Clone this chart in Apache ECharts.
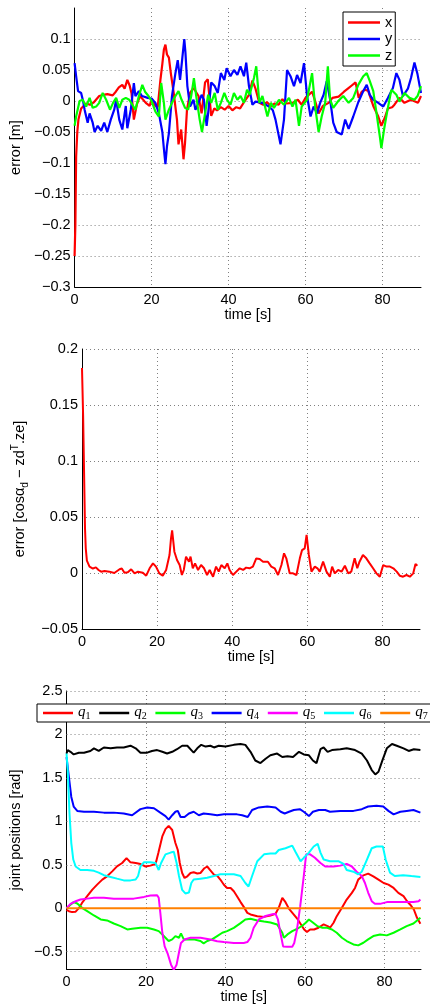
<!DOCTYPE html>
<html><head><meta charset="utf-8">
<script src="https://cdn.jsdelivr.net/npm/echarts@6/dist/echarts.min.js"></script>
<style>html,body{margin:0;padding:0;background:#fff}#c{width:430px;height:1007px}</style>
</head><body><div id="c"></div>
<script>
// ---------- tick labels ----------
const xTicks = [0, 20, 40, 60, 80];
const yTicks1 = [-0.3, -0.25, -0.2, -0.15, -0.1, -0.05, 0, 0.05, 0.1];
const yTicks2 = [-0.05, 0, 0.05, 0.1, 0.15, 0.2];
const yTicks3 = [-0.5, 0, 0.5, 1, 1.5, 2, 2.5];

// ---------- plot 1: position error ----------
const xT = [0,0.2,0.4,0.7,1.0,1.7,3,4,5,6.4,7.5,8.5,9.9,10.7,11.5,12.4,13,13.7,14.3,14.8,15.4,16.2,17,18.5,19.5,20,21,21.6,22.3,22.8,23.2,23.6,24,24.5,25,25.75,26.6,27,27.7,28.3,28.7,29.2,30,30.9,32.2,33,33.9,34.6,35.5,36.3,37,38,39,40,41,42,43,44,45.3,46.2,47,48,49,50,51,52,53,54,55,56.6,58,59,60,61.7,62.5,63.4,64.5,66,67,68.6,70,71,72,73,73.8,74.6,75.5,76.3,77.6,78.9,79.7,80.6,81.4,82.5,83.1,84.4,85.7,87.4,89.2,90];
const xV = [-0.25,-0.2,-0.09,-0.05,-0.03,-0.012,-0.004,-0.006,-0.002,0.008,0.01,0.011,0.009,0.015,0.022,0.026,0.02,0.034,0.025,0.012,-0.03,-0.005,0.008,-0.003,-0.008,0.003,-0.008,-0.01,0.034,0.06,0.083,0.091,0.075,0.07,0.045,0.013,-0.03,-0.07,-0.046,-0.094,-0.067,-0.014,0.013,0.021,0.008,-0.02,0.03,0.035,-0.024,-0.012,-0.015,-0.01,-0.014,-0.008,-0.015,-0.01,-0.012,-0.002,0.01,0.033,0.02,-0.003,-0.006,-0.002,-0.008,-0.004,-0.006,0.003,-0.004,-0.003,0.002,-0.006,0.005,0.015,0.0,-0.02,-0.008,-0.003,0.005,0.007,0.015,0.02,0.025,0.03,0.005,0.015,0.018,0.016,-0.008,-0.025,-0.04,-0.027,-0.012,-0.01,-0.006,0.005,-0.003,0.002,-0.003,0.008];
const yT = [0,0.4,0.9,1.7,2.2,2.6,3.4,3.9,4.7,5.2,6,6.9,7.7,8.5,9.4,10.3,10.8,11.6,12.4,13.3,13.7,14.6,15.4,15.8,16.7,17.5,19,20,21,21.9,22.8,23.2,23.6,24,24.5,25.3,26.2,26.8,27.4,28,28.5,28.8,29.3,30,30.9,31.4,32.2,33,33.6,34.3,34.7,35.5,36.4,37.2,38,38.9,39.5,40.5,41.4,42.3,43.1,44,44.6,45.3,46.2,47,48.8,50.5,51.5,52.2,53.5,54.4,55.2,56.1,57,57.8,58.7,59.6,60.4,61.3,62.1,63,63.8,64.7,65.5,66.4,67.2,68.1,69.4,70.3,71.2,72.4,73.7,75,75.9,76.7,77.6,78.9,80.2,81.4,82.7,83.6,84.4,85.3,86.6,87.4,88.3,89.1,90];
const yV = [0.061,0.04,0.016,0.013,0.0,-0.014,-0.035,-0.02,-0.035,-0.05,-0.04,-0.048,-0.035,-0.05,-0.03,-0.014,0.002,-0.03,-0.046,-0.008,-0.044,-0.014,0.029,0.008,0.016,0.008,0.005,0.004,-0.003,-0.02,-0.05,-0.077,-0.102,-0.073,-0.052,0.008,0.045,0.066,0.034,0.07,0.1,0.078,0.024,-0.009,0.002,-0.014,-0.003,0.01,0.002,-0.04,-0.02,0.03,0.024,0.013,0.045,0.034,0.053,0.04,0.05,0.042,0.056,0.04,0.062,0.024,-0.006,-0.001,-0.003,-0.009,-0.015,-0.03,-0.07,-0.03,0.05,0.04,0.024,0.042,0.029,0.061,0.008,-0.025,-0.009,-0.02,-0.003,0.01,0.032,0.002,-0.035,-0.05,-0.054,-0.03,-0.045,-0.025,-0.002,0.016,0.026,0.01,0.002,-0.003,-0.009,0.005,0.021,0.045,0.034,0.008,0.02,0.037,0.062,0.043,0.013];
const zT = [0,0.4,1.3,2.1,3,3.9,4.7,5.6,6.4,7.3,8.2,9.2,10,10.8,11.6,12.4,13.3,14.2,15,15.8,16.7,17.6,18.3,19.2,20,21,21.9,22.5,23.2,23.6,24.5,25.3,26.2,27,27.8,28.7,29.5,30.3,31,31.6,32.5,33.1,33.9,34.7,35.5,36.4,37.2,38,38.9,39.6,40.5,41.4,42.3,43.1,44,44.8,45.5,46.6,47.2,48,48.8,50.1,51,51.8,53.1,54.4,55.7,56.6,57.4,58.3,59,60.4,61.7,62.5,63.4,64.2,65.1,65.8,66.4,67.2,68.5,69.8,71.2,72.4,73.7,75,75.9,76.7,77.6,78.5,79.3,79.7,80.4,81.3,82.3,83.6,84.4,85.7,87,88.3,89.1,90];
const zV = [-0.04,-0.025,0.0,0.002,-0.009,0.005,-0.011,-0.009,-0.003,0.013,0.002,-0.014,-0.003,0.005,-0.011,0.002,0.005,0.002,-0.006,-0.014,0.008,0.026,0.015,0.008,0.0,-0.017,-0.025,0.029,-0.003,-0.03,-0.014,-0.003,0.008,0.016,0.002,-0.011,-0.014,0.008,0.037,0.008,-0.03,-0.05,-0.02,0.01,-0.003,0.013,-0.014,-0.003,0.013,0.002,-0.006,0.013,0.002,0.008,-0.003,0.018,0.01,0.037,0.056,-0.003,0.008,-0.025,-0.003,-0.011,0.002,-0.006,0.005,-0.009,0.002,-0.04,-0.009,0.002,0.045,-0.009,-0.05,-0.025,-0.003,0.056,0.002,-0.011,0.0,0.008,-0.003,0.005,0.026,0.04,0.045,0.032,0.016,-0.022,-0.057,-0.076,-0.046,-0.014,0.018,0.01,-0.001,0.013,0.005,0.002,0.008,0.024];

// ---------- plot 2: orientation error ----------
const eT = [0,0.3,0.6,0.8,1.0,1.3,2,2.9,3.7,4.4,5.1,6,7.3,8.6,10,10.6,11.3,12.2,13.1,14,14.9,16.2,17.1,18,18.9,19.7,20.6,21.5,22.4,23.3,23.7,24,24.6,25.3,26,26.6,27.1,27.7,28.5,28.9,29.5,30.1,30.9,31.7,32.5,33.3,34,34.9,35.7,36.4,37.1,38,38.7,39.3,40.2,41.1,42,42.9,43.7,44.6,45.5,46.4,47.3,48.2,49.5,50.4,51.3,52.2,53.1,53.8,54.4,55.3,56.2,57.1,58,58.6,59.3,59.8,60.4,61.1,62,62.7,63.3,64.2,65.1,66,66.6,67.3,68.2,69.1,70,70.9,71.7,72.6,73.3,73.9,74.8,75.7,76.6,77.5,78.4,79.3,80.2,81.1,82,82.9,83.8,84.6,85.5,86.4,87.3,88.2,88.8,89.3];
const eV = [0.183,0.14,0.08,0.04,0.022,0.011,0.0057,0.004,0.005,0.0027,0.0012,0.0018,0.0012,0,0.0033,0.004,0.0003,0.0006,0.0033,-0.0003,0.0012,0.0003,-0.0024,0.0042,0.0086,0.0057,-0.0003,-0.0024,0.0027,0.016,0.031,0.038,0.019,0.0116,0.0071,-0.0018,0.0027,0.0146,0.01,0.0146,0.0042,0.0086,0.0027,0.0071,0.0042,-0.0018,0.0027,-0.0033,0.0057,0.0012,0.0071,0.0042,0.0086,0.0027,-0.0018,0.0012,0.0042,0.0027,0.0048,0.0042,0.0057,0.013,0.0125,0.01,0.01,0.0057,0.0042,-0.0018,0.0071,0.0176,0.0131,-0.0003,-0.0003,-0.0018,0.0131,0.0205,0.022,0.034,0.0161,0.0012,0.0057,0.0042,0.0012,0.0101,0.0012,-0.0033,0.0057,-0.0003,0.0027,0.0012,0.0065,-0.0003,0.0012,0.0131,0.0042,0.0101,0.0161,0.0131,0.0086,0.0042,-0.0003,-0.0033,0.0071,0.0057,0.0057,0.0042,0.0012,-0.0024,-0.0033,-0.0018,-0.0033,-0.0003,0.008,0.0065];

// ---------- plot 3: joint positions ----------
const q1T = [0,0.6,1.4,2.3,3.1,3.9,5.2,6.5,7.7,9.0,10.2,11.5,12.7,14.0,15.1,16.1,17.4,18.6,19.9,21.1,22.4,23.1,24.1,24.9,25.7,26.6,27.4,28.0,28.5,29.1,29.7,30.4,31.2,32.0,32.9,33.7,34.7,35.4,36.2,37.1,37.9,38.7,39.6,40.4,41.3,42.1,42.9,43.8,44.6,45.5,46.3,48,49.7,51.3,52.6,53.4,54.3,55.1,56,57.2,58.2,59,59.8,60.5,61.3,62.3,63.4,64.7,65.7,66.3,67.2,68,69.3,70.5,71.8,72.6,73.4,74.7,75.9,77.2,78.5,79.8,81,82.3,83.5,84.8,85.7,86.5,87.4,88.2,89.05];
const q1V = [-0.02,-0.035,-0.045,-0.04,0.0,0.06,0.138,0.214,0.271,0.329,0.367,0.424,0.482,0.52,0.577,0.528,0.52,0.508,0.48,0.49,0.508,0.635,0.826,0.91,0.948,0.9,0.75,0.67,0.52,0.405,0.348,0.367,0.405,0.413,0.4,0.405,0.46,0.48,0.436,0.386,0.375,0.33,0.27,0.233,0.233,0.195,0.138,0.07,0.015,-0.054,-0.072,-0.092,-0.1,-0.084,-0.065,0.004,0.118,0.069,-0.008,-0.073,-0.13,-0.187,-0.245,-0.275,-0.245,-0.245,-0.225,-0.187,-0.206,-0.225,-0.168,-0.092,0.004,0.099,0.176,0.233,0.329,0.378,0.398,0.367,0.329,0.29,0.271,0.233,0.176,0.138,0.08,0.04,-0.015,-0.111,-0.18];
const q2T = [0,0.3,1.0,1.8,3.1,4.4,6.0,6.9,8.1,9.4,11.1,12.7,14.4,16.1,17.4,18.6,20.3,21.5,22.8,24.1,25.3,26.6,27.8,29.1,30.4,31.4,32.0,32.9,33.9,35.0,36.2,37.1,38.3,40.0,42.1,43.8,45,46.3,47.5,48.8,50.1,51.3,53,54.3,55.6,57,58.5,59.7,61,62,62.9,63.9,64.7,65.7,66.8,68.9,70.5,72.6,74.3,75.6,76.8,77.7,78.5,79.4,80.6,81.9,83.1,84.8,86.1,87.4,89.05];
const q2V = [1.78,1.82,1.80,1.77,1.79,1.79,1.81,1.84,1.81,1.85,1.84,1.85,1.85,1.87,1.84,1.79,1.79,1.81,1.82,1.80,1.78,1.80,1.83,1.87,1.87,1.82,1.79,1.84,1.88,1.86,1.87,1.85,1.87,1.86,1.88,1.89,1.88,1.80,1.70,1.67,1.72,1.76,1.78,1.74,1.75,1.74,1.80,1.77,1.76,1.70,1.67,1.83,1.85,1.80,1.82,1.83,1.84,1.82,1.78,1.70,1.59,1.54,1.57,1.69,1.84,1.89,1.87,1.84,1.81,1.83,1.82];
const q3T = [0,1,1.8,2.7,3.9,5.2,6.9,8.6,10.2,11.9,13.6,15.3,16.5,18.6,20.3,22,23.2,24.1,24.9,25.7,26.6,27.4,28.3,28.8,29.5,30.8,32,33.7,34.5,35.4,36.6,37.9,39.2,40.4,42.1,43.8,45,46.3,48,49.7,51.3,53,54.3,54.7,55.6,56.8,58.1,59.4,60.2,61,61.9,63.1,64.4,65.6,66.8,68,69.3,70.5,72.2,73.4,74.7,75.9,77.2,78.9,80.6,82.3,84,85.6,87.3,89.05];
const q3V = [0,0.04,0.07,0.054,0.004,-0.034,-0.084,-0.13,-0.141,-0.176,-0.206,-0.245,-0.237,-0.226,-0.226,-0.245,-0.264,-0.302,-0.34,-0.378,-0.359,-0.321,-0.34,-0.29,-0.359,-0.359,-0.359,-0.378,-0.405,-0.378,-0.359,-0.321,-0.283,-0.264,-0.226,-0.172,-0.13,-0.122,-0.141,-0.153,-0.164,-0.187,-0.283,-0.34,-0.302,-0.264,-0.237,-0.199,-0.168,-0.13,-0.161,-0.206,-0.226,-0.226,-0.245,-0.283,-0.34,-0.378,-0.417,-0.428,-0.398,-0.359,-0.321,-0.302,-0.313,-0.283,-0.245,-0.206,-0.176,-0.111];
const q4T = [0,0.6,1.2,1.8,2.7,4.4,6.9,9.4,11.9,14.4,16.5,18.6,20.3,22,23.6,24.9,25.7,26.6,27.4,28,28.7,29.7,30.8,32,33.3,34.5,36.2,37.9,39.6,41.3,42.9,44.2,45.6,46.7,48.4,50.5,52.6,53.9,54.9,56,57.2,58.7,59.7,61,62,63.5,65.1,66.3,68.9,72.2,74.3,75.9,78,79.7,81,82.3,84,85.6,87.3,89.05];
const q4V = [1.74,1.51,1.28,1.17,1.12,1.11,1.11,1.10,1.10,1.09,1.07,1.14,1.16,1.15,1.10,1.06,1.02,1.07,1.11,1.12,1.05,1.05,1.09,1.11,1.07,1.09,1.08,1.07,1.08,1.08,1.08,1.07,1.05,1.13,1.16,1.17,1.16,1.11,1.09,1.11,1.13,1.14,1.11,1.06,1.11,1.13,1.13,1.11,1.12,1.12,1.14,1.17,1.18,1.17,1.12,1.08,1.11,1.12,1.13,1.10];
const q5T = [0,1,2.3,3.5,5.2,6.9,9.4,11.9,14.4,16.9,19.5,21.1,22.8,23.2,23.6,24.1,24.7,25.5,26.3,27,27.7,28.3,28.8,29.7,31.2,33.7,36.2,37.9,39.6,42.1,44.6,45.5,46.3,47.1,48.4,50.1,51.8,52.6,53.2,53.8,54.5,55.5,56.8,57.3,58,58.8,59.7,60.3,61.3,62.5,63.9,65.1,67.2,68.9,70.5,71.8,73,74.3,75.1,75.9,76.8,77.6,78.9,80.6,82.3,84.8,87.3,88.6,89.05];
const q5V = [0,0.05,0.08,0.1,0.11,0.12,0.12,0.11,0.11,0.11,0.13,0.145,0.149,0.12,-0.05,-0.28,-0.44,-0.53,-0.65,-0.71,-0.65,-0.51,-0.40,-0.36,-0.34,-0.34,-0.36,-0.38,-0.39,-0.40,-0.40,-0.39,-0.34,-0.225,-0.13,-0.09,-0.07,-0.065,-0.13,-0.28,-0.44,-0.445,-0.445,-0.40,-0.245,0.02,0.37,0.62,0.62,0.58,0.52,0.48,0.48,0.49,0.51,0.48,0.42,0.37,0.29,0.18,0.08,0.05,0.05,0.07,0.07,0.07,0.07,0.08,0.10];
const q6T = [0,0.3,0.75,1.2,1.7,2.3,3.5,5.2,6.9,8.1,9.4,11.1,12.7,14.4,16.1,17.4,18,18.6,19.5,21.1,22.4,23.2,23.8,24.9,26.2,27,27.7,28.3,29.1,29.9,30.8,31.4,32,33.7,35.4,37.1,38.7,40.4,42.1,43.8,45,45.8,46.7,48,49.7,51.3,52.6,53.4,55.1,56.8,57.6,58.9,59.7,61,62.2,63.2,63.9,64.7,66.3,68.5,69.7,70.5,72.2,73.4,74.3,75.6,76.8,78,79.6,80.3,81.4,82.6,84.7,86.8,89.05];
const q6V = [1.78,1.59,1.09,0.75,0.56,0.48,0.44,0.44,0.43,0.41,0.38,0.36,0.34,0.32,0.32,0.33,0.37,0.48,0.53,0.53,0.52,0.44,0.52,0.62,0.64,0.65,0.52,0.37,0.21,0.17,0.18,0.29,0.33,0.34,0.35,0.37,0.39,0.39,0.39,0.37,0.29,0.25,0.37,0.54,0.62,0.63,0.63,0.67,0.69,0.72,0.65,0.54,0.58,0.64,0.71,0.74,0.64,0.56,0.54,0.54,0.51,0.44,0.42,0.39,0.42,0.56,0.69,0.71,0.71,0.56,0.41,0.37,0.38,0.37,0.36];
const q7T = [0, 89.2];
const q7V = [0, 0];

// ---------- helpers ----------
const FONT = '"Liberation Sans", Arial, Helvetica, sans-serif';
const SERIF = '"Liberation Serif", "Times New Roman", serif';
const FS = 14.5;
function pairs(t, v) { return t.map((x, i) => [x, v[i]]); }
function fmt(v) { return String(+(+v).toFixed(4)).replace('-', '\u2212'); }
function inTicks(list) {
  return v => list.some(t => Math.abs(t - v) < 1e-6) ? fmt(v) : '';
}
const gridLine = { type: [1, 3], color: '#808080', width: 1 };
const txt = { color: '#000', fontSize: FS, fontFamily: FONT };

function xAxis(gi, max) {
  return {
    type: 'value', gridIndex: gi, min: 0, max: max, interval: xTicks[1] - xTicks[0],
    name: 'time [s]', nameLocation: 'middle', nameGap: 20, nameTextStyle: txt,
    axisLine: { onZero: false, lineStyle: { color: '#000', width: 1 } },
    axisTick: { show: false },
    axisLabel: Object.assign({ margin: 5, formatter: inTicks(xTicks), showMaxLabel: false }, txt),
    splitLine: { show: true, showMinLine: false, showMaxLine: false, lineStyle: gridLine }
  };
}
function yAxis(gi, min, max, interval, ticks, name, gap, extra) {
  return Object.assign({
    type: 'value', gridIndex: gi, min: min, max: max, interval: interval,
    name: name, nameLocation: 'middle', nameGap: gap, nameTextStyle: txt,
    axisLine: { onZero: false, lineStyle: { color: '#000', width: 1 } },
    axisTick: { show: false },
    axisLabel: Object.assign({ margin: 4, formatter: inTicks(ticks) }, txt),
    splitLine: { show: true, showMinLine: false, showMaxLine: true, lineStyle: gridLine }
  }, extra || {});
}
function line(name, data, color, gi, w, extra) {
  return Object.assign({
    type: 'line', name: name, data: data, xAxisIndex: gi, yAxisIndex: gi,
    showSymbol: false, symbol: 'none', clip: true,
    lineStyle: { color: color, width: w }, itemStyle: { color: color },
    emphasis: { disabled: true }
  }, extra || {});
}

const y1 = yAxis(0, -0.3, 0.15, 0.05, yTicks1, 'error [m]', 45);
y1.splitLine.showMaxLine = false;
y1.axisLabel.showMaxLabel = false;
const y2 = yAxis(1, -0.05, 0.2, 0.05, yTicks2,
  '{n|error [cos\u03b1}{d|d}{n| \u2212 zd}{t|T}{n|.ze]}', 31);
y2.nameTextStyle = {
  color: '#000',
  rich: {
    n: { fontSize: FS, fontFamily: FONT, color: '#000', lineHeight: 20, verticalAlign: 'middle' },
    d: { fontSize: 10, fontFamily: FONT, color: '#000', lineHeight: 10, verticalAlign: 'bottom' },
    t: { fontSize: 10, fontFamily: FONT, color: '#000', lineHeight: 10, verticalAlign: 'top' }
  }
};
const y3 = yAxis(2, -0.7, 2.5, 0.1, yTicks3, 'joint positions [rad]', 33);
y3.splitLine = { show: false };

const option = {
  animation: false,
  backgroundColor: '#fff',
  grid: [
    { left: 71, top: 8, width: 350, height: 279 },
    { left: 82, top: 349, width: 338, height: 280 },
    { left: 66, top: 691, width: 355, height: 278 }
  ],
  xAxis: [xAxis(0, 90), xAxis(1, 90), xAxis(2, 89.2)],
  yAxis: [y1, y2, y3],
  legend: [
    {
      data: ['x', 'y', 'z'], orient: 'vertical', left: 343, top: 12,
      icon: 'rect', itemWidth: 32, itemHeight: 2.5, itemGap: 1.5,
      padding: [3, 3, 3, 5], backgroundColor: '#fff', borderColor: '#000', borderWidth: 1,
      borderRadius: 0, selectedMode: false, textStyle: txt
    },
    {
      data: ['q1', 'q2', 'q3', 'q4', 'q5', 'q6', 'q7'], orient: 'horizontal', left: 37, top: 704,
      width: 440,
      icon: 'rect', itemWidth: 30, itemHeight: 2.5, itemGap: 8.7,
      padding: [1, 12, 1, 6], backgroundColor: '#fff', borderColor: '#000', borderWidth: 1,
      borderRadius: 0, selectedMode: false,
      formatter: n => '{q|q}{s|' + n.slice(1) + '}',
      textStyle: {
        width: 14, color: '#000',
        rich: {
          q: { fontFamily: SERIF, fontStyle: 'italic', fontSize: 15, lineHeight: 16, verticalAlign: 'top', color: '#000' },
          s: { fontFamily: SERIF, fontSize: 10, lineHeight: 10, verticalAlign: 'bottom', color: '#000' }
        }
      }
    }
  ],
  series: [
    line('x', pairs(xT, xV), '#ff0000', 0, 2.2),
    line('y', pairs(yT, yV), '#0000ff', 0, 2.2),
    line('z', pairs(zT, zV), '#00ff00', 0, 2.2),
    line('e', pairs(eT, eV), '#ff0000', 1, 2),
    line('q1', pairs(q1T, q1V), '#ff0000', 2, 2, {
      markLine: {
        silent: true, symbol: ['none', 'none'], z: 1, label: { show: false },
        lineStyle: gridLine, emphasis: { disabled: true },
        data: yTicks3.map(v => ({ yAxis: v }))
      }
    }),
    line('q2', pairs(q2T, q2V), '#000000', 2, 2),
    line('q3', pairs(q3T, q3V), '#00ff00', 2, 2),
    line('q4', pairs(q4T, q4V), '#0000ff', 2, 2),
    line('q5', pairs(q5T, q5V), '#ff00ff', 2, 2),
    line('q6', pairs(q6T, q6V), '#00ffff', 2, 2),
    line('q7', pairs(q7T, q7V), '#ff8000', 2, 2)
  ]
};
const chart = echarts.init(document.getElementById('c'), null, { renderer: 'canvas' });
chart.setOption(option);
</script>
</body></html>
